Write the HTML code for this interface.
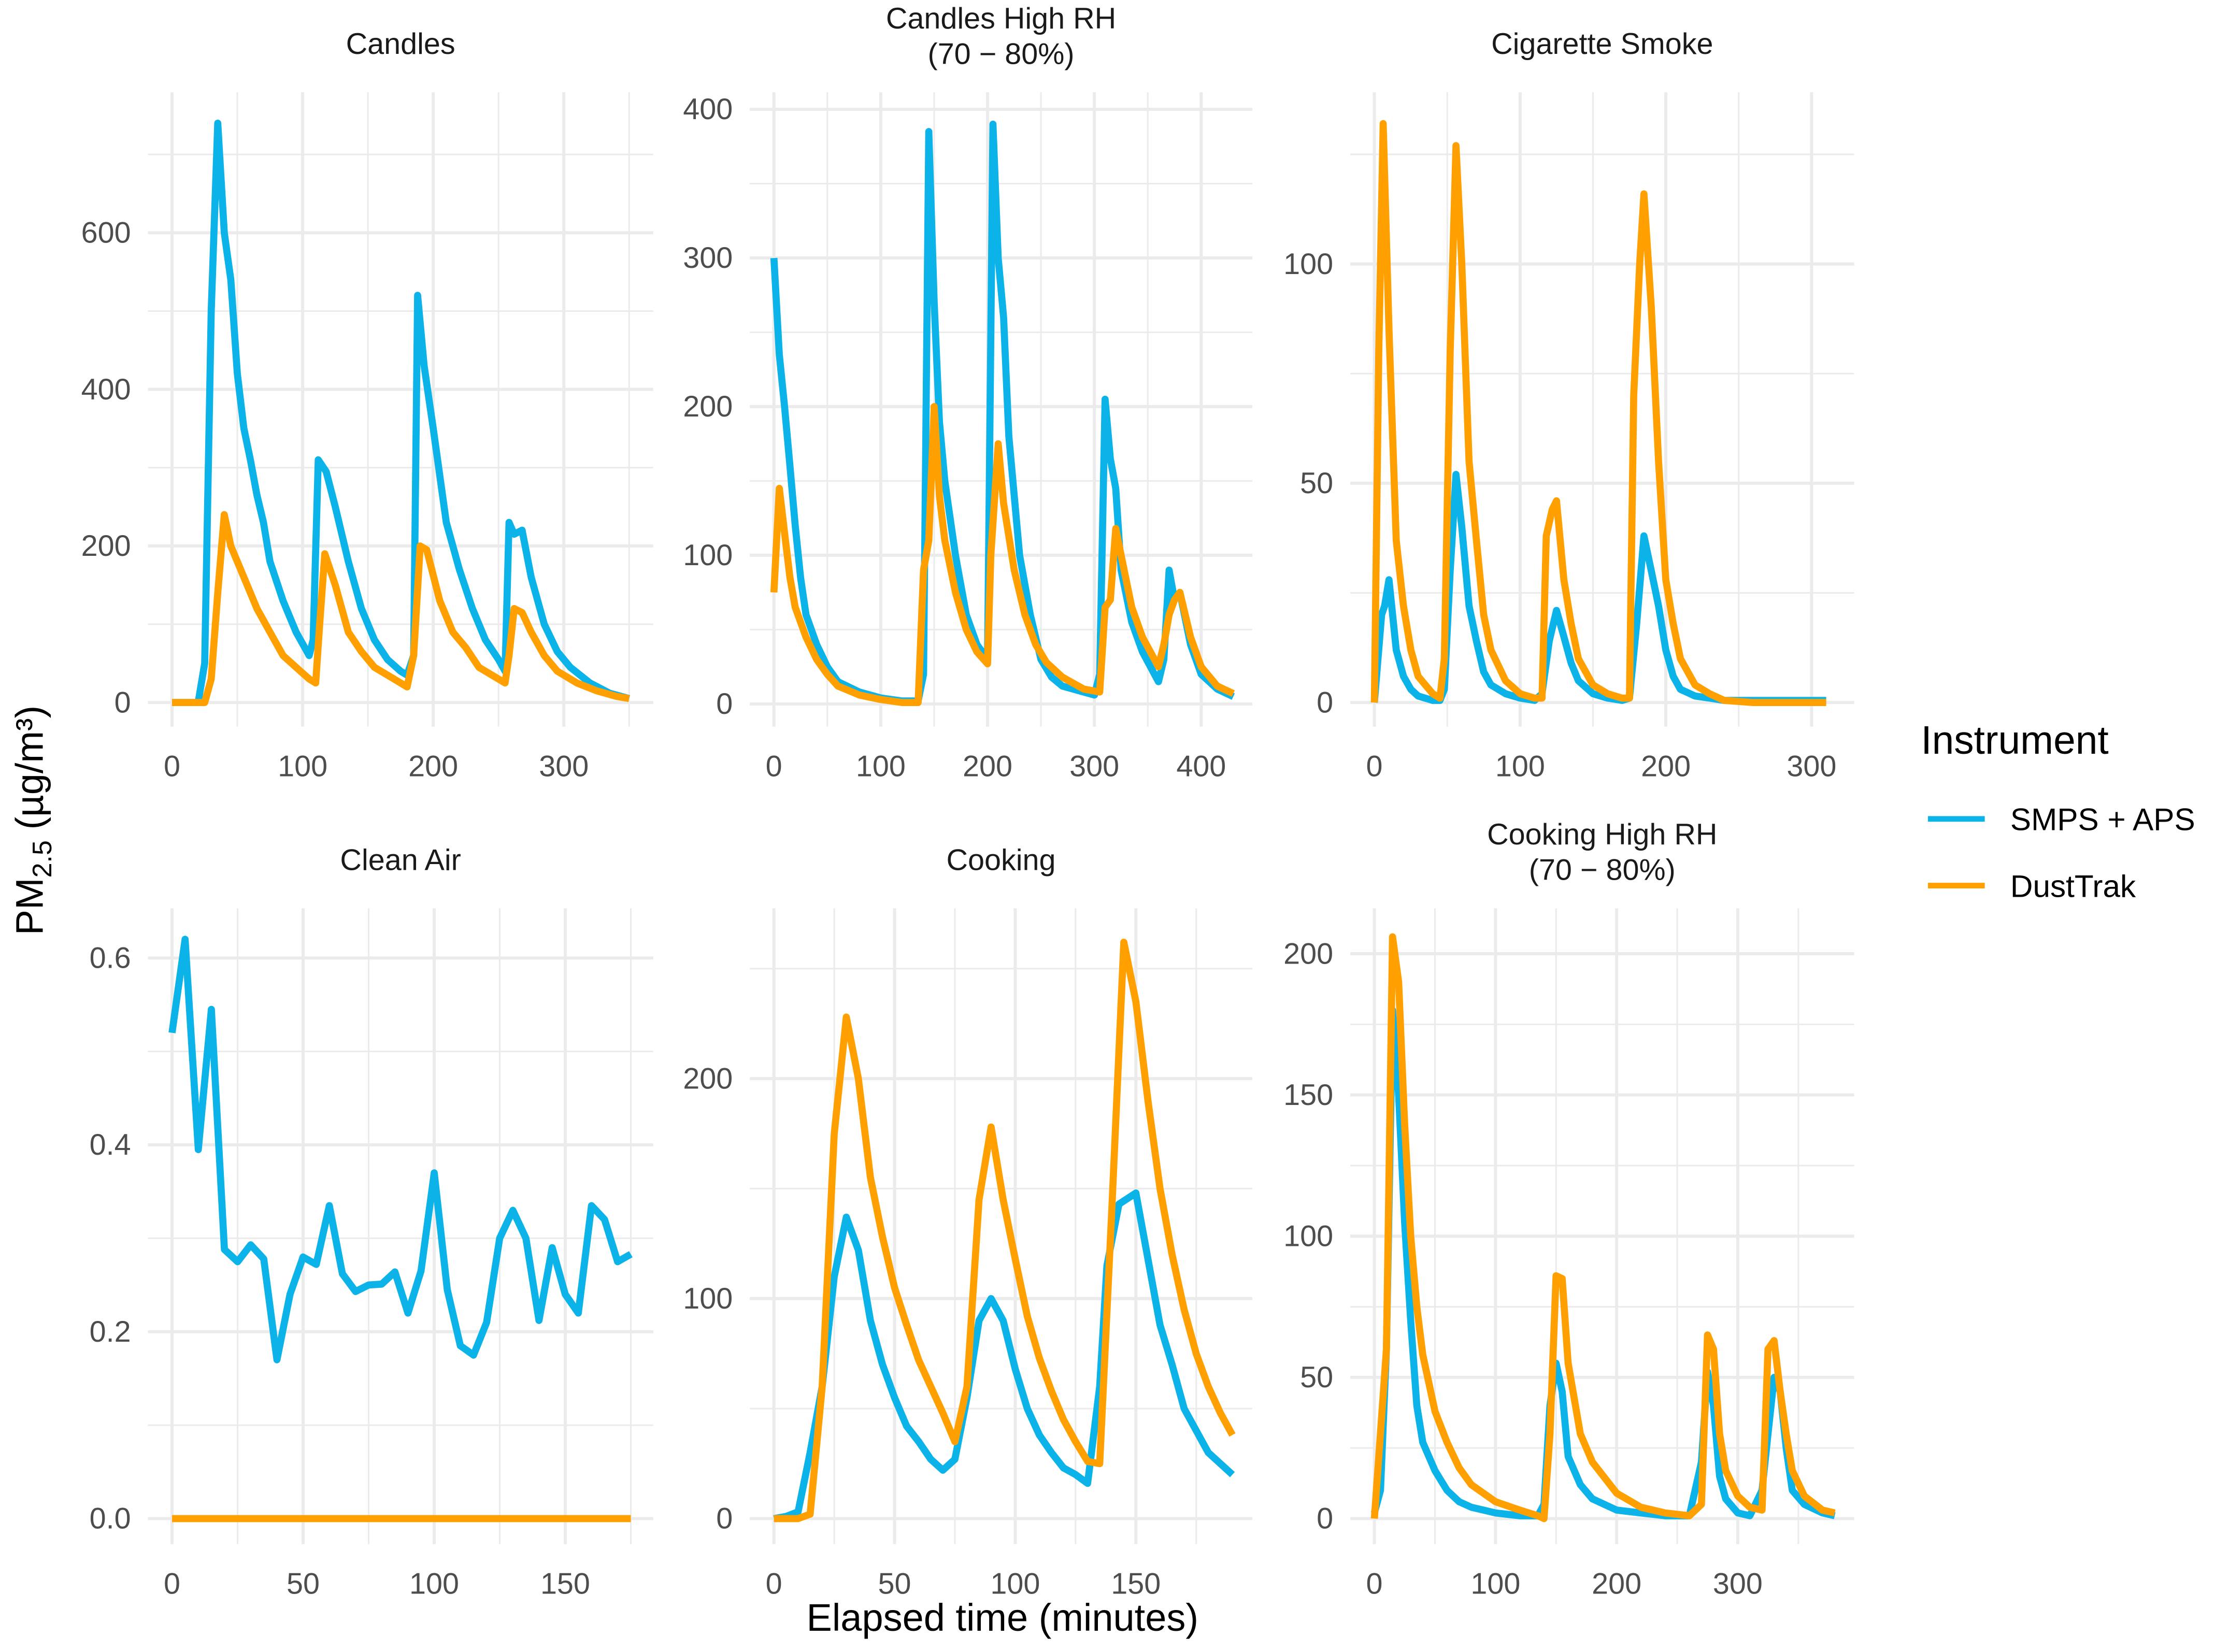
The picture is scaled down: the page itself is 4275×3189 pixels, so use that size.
<!DOCTYPE html>
<html><head><meta charset="utf-8"><style>
html,body{margin:0;padding:0;background:#fff;}
svg{display:block;font-family:"Liberation Sans",sans-serif;}
</style></head><body>
<svg id="c" width="4275" height="3189" viewBox="0 0 1560 1164" xmlns="http://www.w3.org/2000/svg">
<rect width="1560" height="1164" fill="#fff"/>
<text x="706" y="1149" font-size="27" text-anchor="middle" fill="#000">Elapsed time (minutes)</text>
<text transform="translate(30,578) rotate(-90)" font-size="27" text-anchor="middle" fill="#000">PM<tspan font-size="19" dy="6">2.5</tspan><tspan dy="-6"> (µg/m³)</tspan></text>
<g>
<text x="1353" y="531" font-size="28" fill="#000">Instrument</text>
<g><line x1="1358" y1="577" x2="1398" y2="577" stroke="#0BB3E8" stroke-width="4"/><text x="1416" y="585" font-size="22" fill="#000">SMPS + APS</text></g>
<g><line x1="1358" y1="624" x2="1398" y2="624" stroke="#FFA000" stroke-width="4"/><text x="1416" y="632" font-size="22" fill="#000">DustTrak</text></g>
</g>
<g id="panels"></g>
</svg>
<script>
// ---- data ----
const candlesX_S=[0,10,20,25,30,35,40,45,50,55,60,65,70,75,85,95,105,108,112,118,125,135,145,155,165,175,180,185,188,193,200,210,220,230,240,250,255,258,262,268,275,285,295,305,320,335,350];
const candlesY_S=[0,0,0,50,500,740,600,540,420,350,310,265,230,180,130,90,60,80,310,295,250,180,120,80,55,40,35,60,520,430,350,230,170,120,80,55,40,230,215,220,160,100,65,45,25,12,5];
const candlesX_D=[0,25,30,35,40,45,55,65,75,85,95,105,110,113,117,125,135,145,155,165,175,180,185,190,195,205,215,225,235,245,255,258,262,268,275,285,295,310,325,340,350];
const candlesY_D=[0,0,30,140,240,200,160,120,90,60,45,30,25,100,190,150,90,65,45,35,25,20,60,200,195,130,90,70,45,35,25,60,120,115,90,60,40,25,15,8,5];
const rhX_S=[0,5,10,15,20,25,30,40,50,60,80,100,120,135,140,145,150,155,160,170,180,190,195,200,205,210,215,220,230,240,250,260,270,290,300,305,310,315,320,325,335,345,360,365,370,375,380,390,400,415,430];
const rhY_S=[300,235,200,160,120,85,60,40,25,15,8,4,2,2,20,385,270,190,150,100,60,40,35,30,390,300,260,180,100,60,30,18,12,8,6,20,205,165,145,90,55,35,15,30,90,70,75,40,20,10,5];
const rhX_D=[0,5,10,15,20,30,40,50,60,80,100,120,135,140,145,150,155,160,170,180,190,200,203,210,215,225,235,245,255,270,290,305,310,315,320,325,335,345,360,365,370,375,380,390,400,415,430];
const rhY_D=[75,145,115,85,65,45,30,20,12,6,3,1,1,90,110,200,140,110,75,50,35,27,100,175,135,90,60,40,28,18,10,8,65,70,118,100,65,45,25,40,60,70,75,45,25,12,7];
const cigX_S=[0,5,7,10,15,20,25,30,40,45,48,52,56,60,65,70,75,80,90,100,110,115,120,125,130,135,140,150,160,170,175,180,185,190,195,200,205,210,220,230,240,250,270,290,310];
const cigY_S=[0,20,22,28,12,6,3,1.5,0.5,0.5,3,30,52,40,22,14,7,4,2,1,0.5,2,14,21,15,9,5,2,1,0.5,1,18,38,30,22,12,6,3,1.5,1,0.5,0.5,0.5,0.5,0.5];
const cigX_D=[0,3,6,10,15,20,25,30,40,45,48,52,56,60,65,70,75,80,90,100,110,115,118,122,125,130,135,140,150,160,170,175,178,182,185,190,195,200,205,210,220,230,240,260,310];
const cigY_D=[0,80,132,85,37,22,12,6,2,1,10,80,127,100,55,37,20,12,5,2,1,1,38,44,46,28,18,10,4,2,1,1,70,100,116,90,55,28,18,10,4,2,0.5,0,0];
const cleanX_S=[0,5,10,15,20,25,30,35,40,45,50,55,60,65,70,75,80,85,90,95,100,105,110,115,120,125,130,135,140,145,150,155,160,165,170,175];
const cleanY_S=[0.52,0.62,0.395,0.545,0.288,0.275,0.293,0.278,0.17,0.24,0.28,0.272,0.335,0.262,0.243,0.25,0.251,0.264,0.22,0.265,0.37,0.245,0.185,0.175,0.21,0.30,0.33,0.30,0.212,0.29,0.24,0.22,0.335,0.32,0.275,0.283];
const cleanX_D=[0,175];
const cleanY_D=[0,0];
const cookX_S=[0,5,10,15,20,25,30,35,40,45,50,55,60,65,70,75,80,85,90,95,100,105,110,115,120,125,130,135,138,143,150,155,160,165,170,175,180,190];
const cookY_S=[0,1,3,30,60,110,137,122,90,70,55,42,35,27,22,27,55,90,100,90,68,50,38,30,23,20,16,60,115,143,148,118,88,70,50,40,30,20];
const cookX_D=[0,10,15,20,25,30,35,40,45,50,55,60,65,70,75,80,85,90,95,100,105,110,115,120,125,130,135,140,145,150,155,160,165,170,175,180,185,190];
const cookY_D=[0,0,2,60,175,228,200,155,128,105,88,72,60,48,35,60,145,178,145,118,92,73,58,45,35,26,25,140,262,235,190,150,120,95,75,60,48,38];
const crhX_S=[0,5,10,15,20,25,30,35,40,50,60,70,80,100,120,135,140,145,150,155,160,170,180,200,220,240,260,270,275,280,285,290,300,310,320,325,330,335,340,345,355,370,380];
const crhY_S=[2,10,60,180,150,105,70,40,27,17,10,6,4,2,1,1,5,40,55,45,22,12,7,3,2,1,1,20,52,40,15,7,2,1,10,30,50,45,25,10,5,2,1];
const crhX_D=[0,10,15,20,25,30,35,40,50,60,70,80,100,120,135,140,145,150,155,160,170,180,200,220,240,260,270,275,280,285,290,300,310,320,325,330,335,340,345,355,370,380];
const crhY_D=[0,60,206,190,140,100,75,58,38,27,18,12,6,3,1,0,30,86,85,55,30,20,9,4,2,1,5,65,60,30,17,8,4,3,60,63,45,30,17,8,3,2];
// ticks
const candlesTicksY=[0,200,400,600], candlesTicksX=[0,100,200,300];
const rhTicksY=[0,100,200,300,400], rhTicksX=[0,100,200,300,400];
const cigTicksY=[0,50,100], cigTicksX=[0,100,200,300];
const cleanTicksY=[0,0.2,0.4,0.6], cleanTicksX=[0,50,100,150];
const cookTicksY=[0,100,200], cookTicksX=[0,50,100,150];
const crhTicksY=[0,50,100,150,200], crhTicksX=[0,100,200,300];

const BLUE="#0BB3E8", ORANGE="#FFA000";
const NS="http://www.w3.org/2000/svg";
const root=document.getElementById('panels');
function mk(tag,attrs,parent){const e=document.createElementNS(NS,tag);for(const k in attrs)e.setAttribute(k,attrs[k]);parent.appendChild(e);return e;}
const panels=[
 {name:"candles",title:["Candles"],box:[104,65,460,512],xa:[0,121,300,397],ya:[0,495,600,164],tx:candlesTicksX,ty:candlesTicksY,dx:50,dy:100,lbl:v=>v,s:[candlesX_S,candlesY_S],d:[candlesX_D,candlesY_D]},
 {name:"candles-high-rh",title:["Candles High RH","(70 − 80%)"],box:[528,65,882,512],xa:[0,545,400,846],ya:[0,496,400,77],tx:rhTicksX,ty:rhTicksY,dx:50,dy:50,lbl:v=>v,s:[rhX_S,rhY_S],d:[rhX_D,rhY_D]},
 {name:"cigarette-smoke",title:["Cigarette Smoke"],box:[951,65,1306,512],xa:[0,968,300,1276],ya:[0,495,100,186],tx:cigTicksX,ty:cigTicksY,dx:50,dy:25,lbl:v=>v,s:[cigX_S,cigY_S],d:[cigX_D,cigY_D]},
 {name:"clean-air",title:["Clean Air"],box:[104,640,460,1088],xa:[0,121,150,398],ya:[0,1070,0.6,675],tx:cleanTicksX,ty:cleanTicksY,dx:25,dy:0.1,lbl:v=>v.toFixed(1),s:[cleanX_S,cleanY_S],d:[cleanX_D,cleanY_D]},
 {name:"cooking",title:["Cooking"],box:[528,640,882,1088],xa:[0,545,150,800],ya:[0,1070,200,760],tx:cookTicksX,ty:cookTicksY,dx:25,dy:50,lbl:v=>v,s:[cookX_S,cookY_S],d:[cookX_D,cookY_D]},
 {name:"cooking-high-rh",title:["Cooking High RH","(70 − 80%)"],box:[951,640,1306,1088],xa:[0,968,300,1224],ya:[0,1070,200,672],tx:crhTicksX,ty:crhTicksY,dx:50,dy:25,lbl:v=>v,s:[crhX_S,crhY_S],d:[crhX_D,crhY_D]}
];
panels.forEach(p=>{
  const g=mk('g',{},root);
  
  
  const [L,T,R,B]=p.box;
  const sx=v=>p.xa[1]+(v-p.xa[0])*(p.xa[3]-p.xa[1])/(p.xa[2]-p.xa[0]);
  const sy=v=>p.ya[1]+(v-p.ya[0])*(p.ya[3]-p.ya[1])/(p.ya[2]-p.ya[0]);
  const ix=px=>p.xa[0]+(px-p.xa[1])*(p.xa[2]-p.xa[0])/(p.xa[3]-p.xa[1]);
  const iy=px=>p.ya[0]+(px-p.ya[1])*(p.ya[2]-p.ya[0])/(p.ya[3]-p.ya[1]);
  const xmin=ix(L),xmax=ix(R),ymin=iy(B),ymax=iy(T);
  for(let v=Math.ceil(xmin/p.dx)*p.dx;v<=xmax;v+=p.dx){const X=sx(v);mk('line',{x1:X,x2:X,y1:T,y2:B,stroke:"#ebebeb","stroke-width":p.tx.some(t=>Math.abs(t-v)<1e-9)?2.2:1.1},g);}
  for(let v=Math.ceil(ymin/p.dy-1e-9)*p.dy;v<=ymax+1e-9;v+=p.dy){const Y=sy(v);mk('line',{x1:L,x2:R,y1:Y,y2:Y,stroke:"#ebebeb","stroke-width":p.ty.some(t=>Math.abs(t-v)<1e-9)?2.2:1.1},g);}
  p.tx.forEach(v=>{const t=mk('text',{x:sx(v),y:B+35,"font-size":21,"text-anchor":"middle",fill:"#4d4d4d"},g);t.textContent=v;
    
    });
  p.ty.forEach(v=>{const t=mk('text',{x:L-12,y:sy(v)+7,"font-size":21,"text-anchor":"end",fill:"#4d4d4d"},g);t.textContent=p.lbl(v);
    
    });
  p.title.forEach((s,i)=>{const t=mk('text',{x:(L+R)/2,y:(p.title.length===2?T-45:T-27)+i*25,"font-size":21,"text-anchor":"middle",fill:"#1a1a1a"},g);t.textContent=s;
    
    });
  [[p.s,BLUE,'line-smps-aps'],[p.d,ORANGE,'line-dusttrak']].forEach(([xy,col,nm])=>{
    const pts=xy[0].map((x,i)=>sx(x).toFixed(1)+","+sy(xy[1][i]).toFixed(1)).join(" ");
    const l=mk('polyline',{points:pts,fill:"none",stroke:col,"stroke-width":5,"stroke-linejoin":"round","stroke-linecap":"butt"},g);
    
    
  });
});
</script>
</body></html>
